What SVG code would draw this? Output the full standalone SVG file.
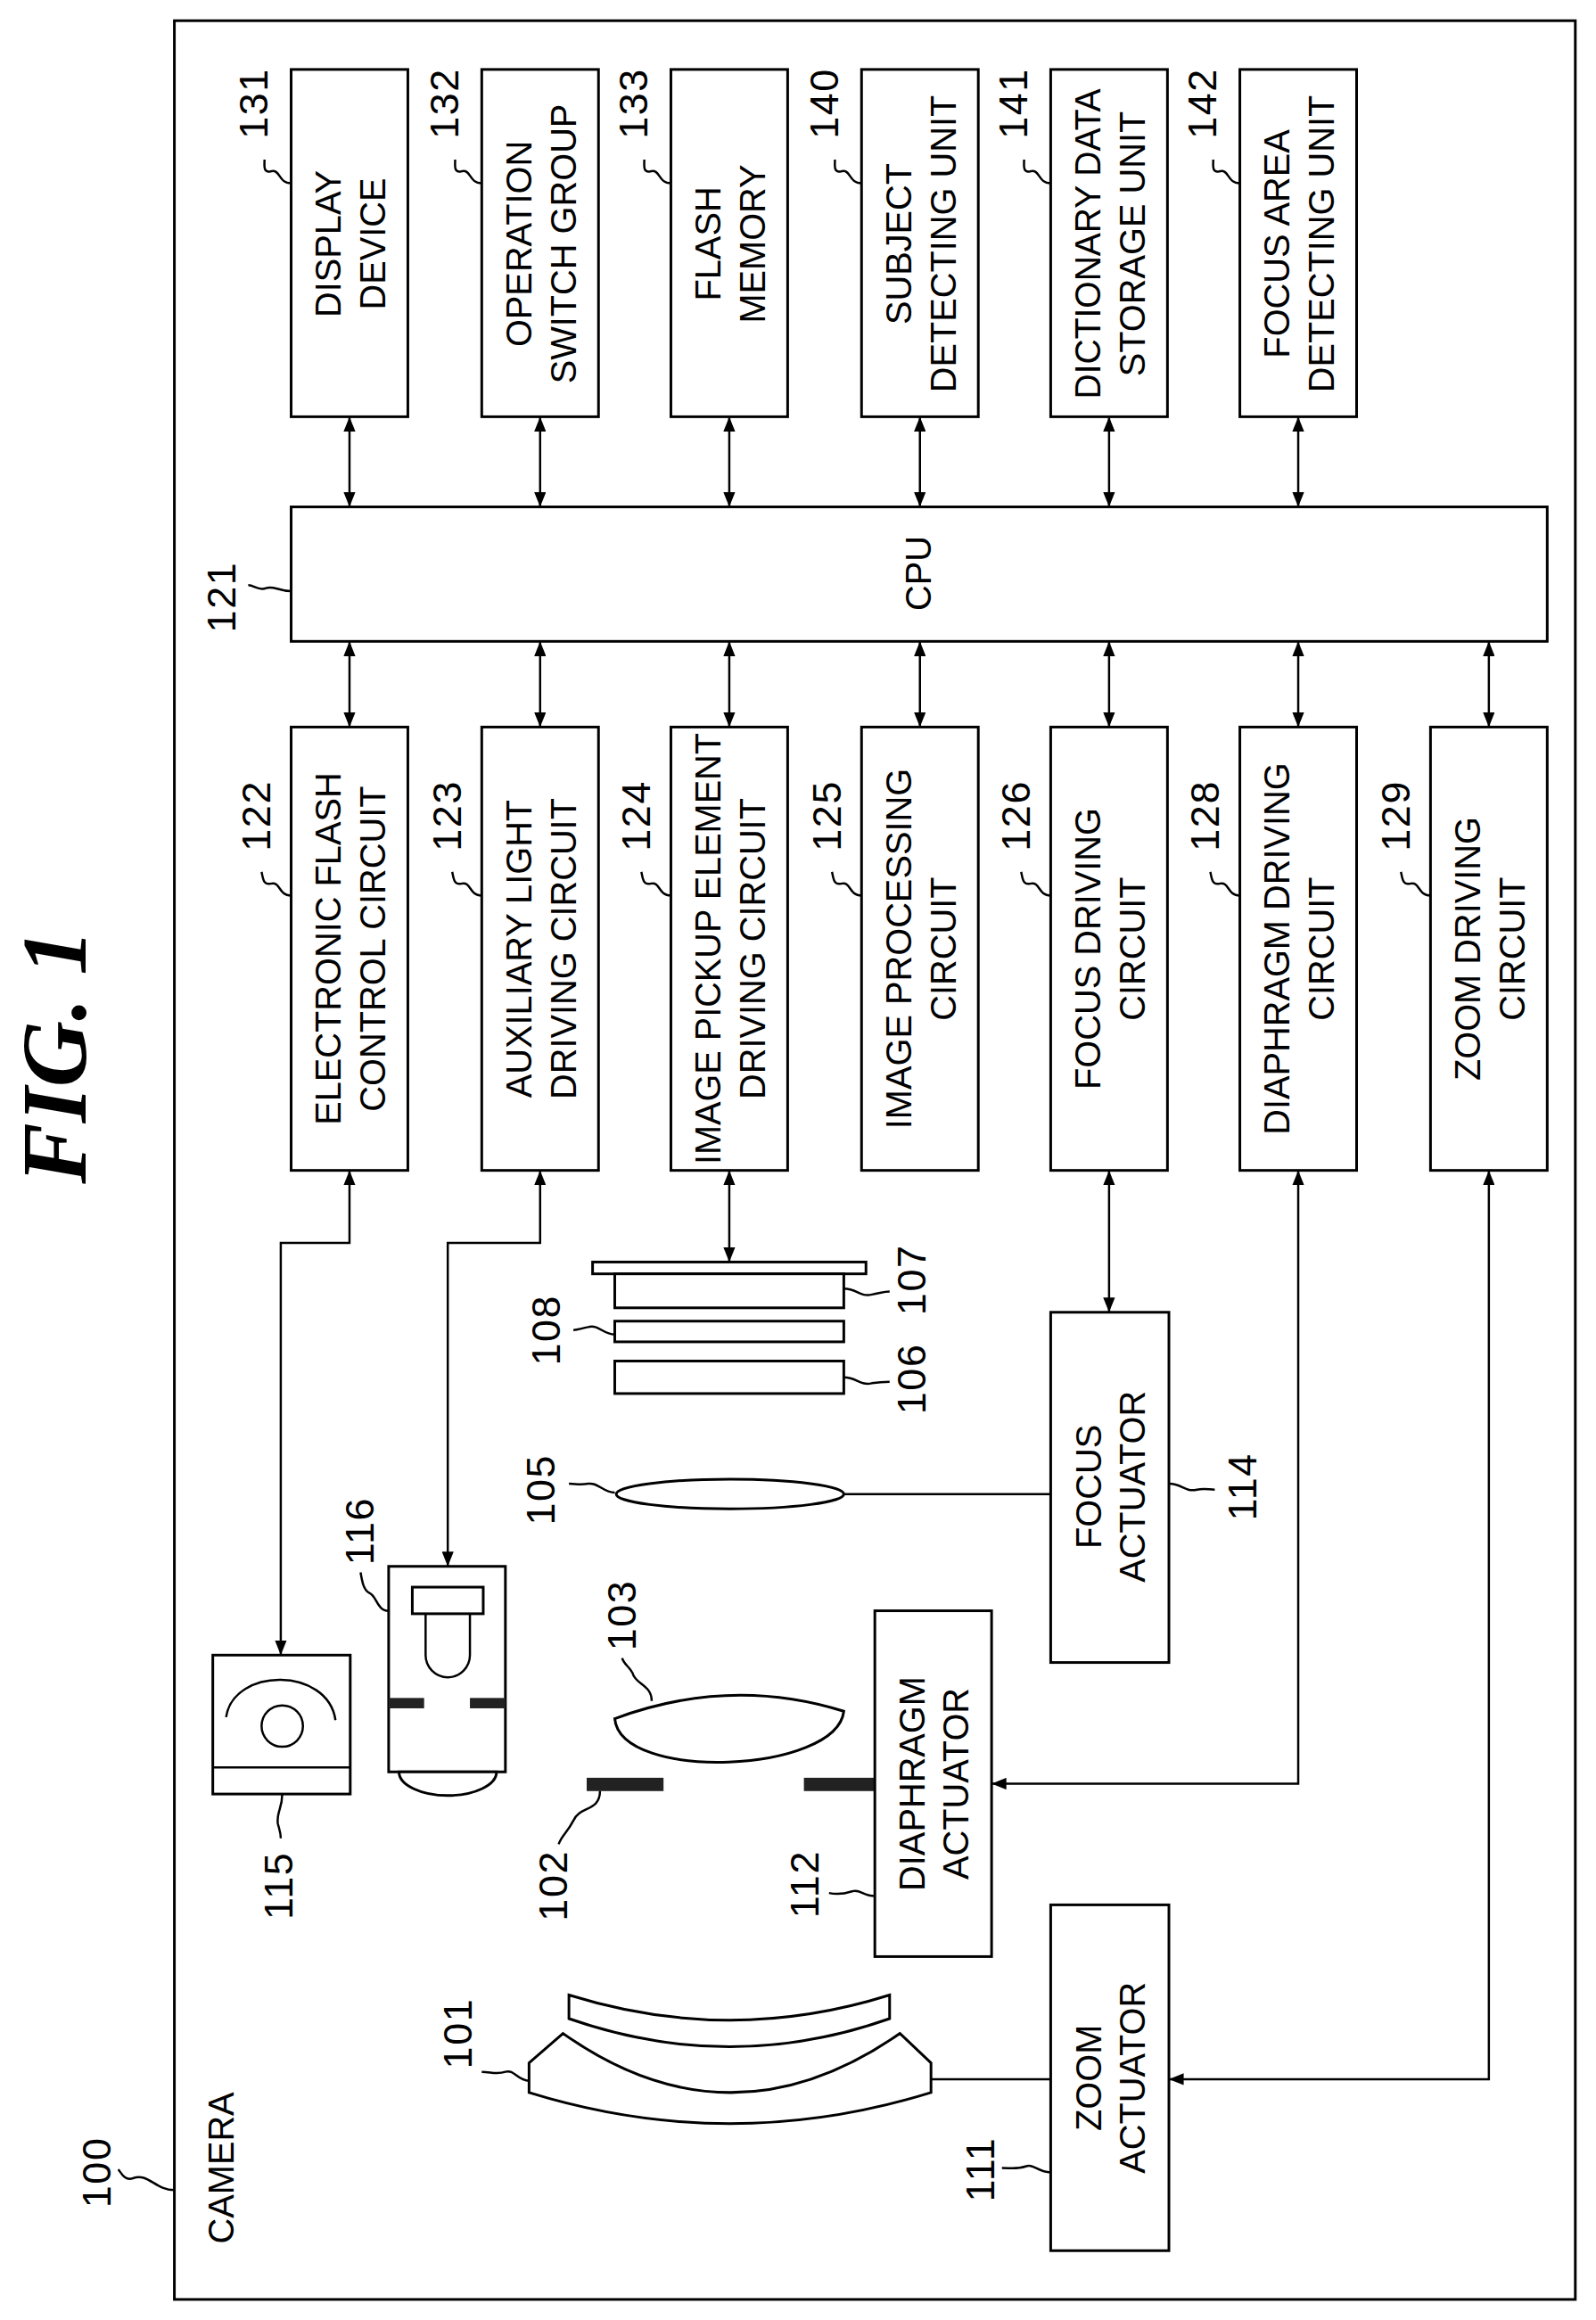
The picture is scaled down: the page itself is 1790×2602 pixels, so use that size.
<svg xmlns="http://www.w3.org/2000/svg" width="1790" height="2602" viewBox="0 0 1790 2602">
<defs>
<style>
.b{fill:#fff;stroke:#000;stroke-width:1.8}
.l{fill:none;stroke:#000;stroke-width:1.5}
.t{font-family:"Liberation Sans",Arial,sans-serif;font-size:24px;text-anchor:middle;fill:#000}
.n{font-family:"Liberation Sans",Arial,sans-serif;font-size:27px;text-anchor:middle;fill:#000;letter-spacing:1px}
.fig{font-family:"Liberation Serif",serif;font-size:62px;font-weight:bold;font-style:italic;text-anchor:middle}
.bar{fill:#222}
</style>
<marker id="a" viewBox="0 0 10 8" refX="10" refY="4" markerWidth="10" markerHeight="8" markerUnits="userSpaceOnUse" orient="auto-start-reverse"><path d="M0,0 L10,4 L0,8 z" fill="#000"/></marker>
</defs>
<rect width="1790" height="2602" fill="#fff"/>
<g transform="scale(1.65741)">
<text class="fig" transform="translate(58,715) rotate(-90)">FIG. 1</text>
<rect class="b" x="118" y="14" width="948" height="1542" fill="none"/>
<g id="label100"><text class="n" transform="translate(66,1470) rotate(-90)" dy="9">100</text><path class="l" d="M118,1482 C105,1482 100,1470 90,1474 C84,1476 82,1470 80,1468"/><text class="t" transform="translate(150,1467) rotate(-90)" dy="8">CAMERA</text></g>

<g id="n131"><rect class="b" x="197" y="47" width="79" height="235"/><text class="t" transform="translate(236.5,165) rotate(-90)"><tspan x="0" y="-6">DISPLAY</tspan><tspan x="0" y="24">DEVICE</tspan></text><text class="n" transform="translate(172,70) rotate(-90)" dy="9">131</text><path class="l" d="M197,124 C188,124 190,114 183,116 C178,117 179,112 179,108"/></g>
<g id="n132"><rect class="b" x="326" y="47" width="79" height="235"/><text class="t" transform="translate(365.5,165) rotate(-90)"><tspan x="0" y="-6">OPERATION</tspan><tspan x="0" y="24">SWITCH GROUP</tspan></text><text class="n" transform="translate(301,70) rotate(-90)" dy="9">132</text><path class="l" d="M326,124 C317,124 319,114 312,116 C307,117 308,112 308,108"/></g>
<g id="n133"><rect class="b" x="454" y="47" width="79" height="235"/><text class="t" transform="translate(493.5,165) rotate(-90)"><tspan x="0" y="-6">FLASH</tspan><tspan x="0" y="24">MEMORY</tspan></text><text class="n" transform="translate(429,70) rotate(-90)" dy="9">133</text><path class="l" d="M454,124 C445,124 447,114 440,116 C435,117 436,112 436,108"/></g>
<g id="n140"><rect class="b" x="583" y="47" width="79" height="235"/><text class="t" transform="translate(622.5,165) rotate(-90)"><tspan x="0" y="-6">SUBJECT</tspan><tspan x="0" y="24">DETECTING UNIT</tspan></text><text class="n" transform="translate(558,70) rotate(-90)" dy="9">140</text><path class="l" d="M583,124 C574,124 576,114 569,116 C564,117 565,112 565,108"/></g>
<g id="n141"><rect class="b" x="711" y="47" width="79" height="235"/><text class="t" transform="translate(750.5,165) rotate(-90)"><tspan x="0" y="-6" textLength="210" lengthAdjust="spacingAndGlyphs">DICTIONARY DATA</tspan><tspan x="0" y="24">STORAGE UNIT</tspan></text><text class="n" transform="translate(686,70) rotate(-90)" dy="9">141</text><path class="l" d="M711,124 C702,124 704,114 697,116 C692,117 693,112 693,108"/></g>
<g id="n142"><rect class="b" x="839" y="47" width="79" height="235"/><text class="t" transform="translate(878.5,165) rotate(-90)"><tspan x="0" y="-6">FOCUS AREA</tspan><tspan x="0" y="24">DETECTING UNIT</tspan></text><text class="n" transform="translate(814,70) rotate(-90)" dy="9">142</text><path class="l" d="M839,124 C830,124 832,114 825,116 C820,117 821,112 821,108"/></g>

<g id="n121"><rect class="b" x="197" y="343" width="850" height="91"/><text class="t" transform="translate(622,388) rotate(-90)" dy="8">CPU</text><text class="n" transform="translate(150,404) rotate(-90)" dy="9">121</text><path class="l" d="M197,400 C188,400 185,396 180,398 C175,400 172,396 168,396"/></g>

<g id="n122"><rect class="b" x="197" y="492" width="79" height="300"/><text class="t" transform="translate(236.5,642) rotate(-90)"><tspan x="0" y="-6">ELECTRONIC FLASH</tspan><tspan x="0" y="24">CONTROL CIRCUIT</tspan></text><text class="n" transform="translate(174,552) rotate(-90)" dy="9">122</text><path class="l" d="M197,606 C188,606 190,596 183,598 C178,599 178,594 177,590"/></g>
<g id="n123"><rect class="b" x="326" y="492" width="79" height="300"/><text class="t" transform="translate(365.5,642) rotate(-90)"><tspan x="0" y="-6">AUXILIARY LIGHT</tspan><tspan x="0" y="24">DRIVING CIRCUIT</tspan></text><text class="n" transform="translate(303,552) rotate(-90)" dy="9">123</text><path class="l" d="M326,606 C317,606 319,596 312,598 C307,599 307,594 306,590"/></g>
<g id="n124"><rect class="b" x="454" y="492" width="79" height="300"/><text class="t" transform="translate(493.5,642) rotate(-90)"><tspan x="0" y="-6" textLength="292" lengthAdjust="spacingAndGlyphs">IMAGE PICKUP ELEMENT</tspan><tspan x="0" y="24">DRIVING CIRCUIT</tspan></text><text class="n" transform="translate(431,552) rotate(-90)" dy="9">124</text><path class="l" d="M454,606 C445,606 447,596 440,598 C435,599 435,594 434,590"/></g>
<g id="n125"><rect class="b" x="583" y="492" width="79" height="300"/><text class="t" transform="translate(622.5,642) rotate(-90)"><tspan x="0" y="-6">IMAGE PROCESSING</tspan><tspan x="0" y="24">CIRCUIT</tspan></text><text class="n" transform="translate(560,552) rotate(-90)" dy="9">125</text><path class="l" d="M583,606 C574,606 576,596 569,598 C564,599 564,594 563,590"/></g>
<g id="n126"><rect class="b" x="711" y="492" width="79" height="300"/><text class="t" transform="translate(750.5,642) rotate(-90)"><tspan x="0" y="-6">FOCUS DRIVING</tspan><tspan x="0" y="24">CIRCUIT</tspan></text><text class="n" transform="translate(688,552) rotate(-90)" dy="9">126</text><path class="l" d="M711,606 C702,606 704,596 697,598 C692,599 692,594 691,590"/></g>
<g id="n128"><rect class="b" x="839" y="492" width="79" height="300"/><text class="t" transform="translate(878.5,642) rotate(-90)"><tspan x="0" y="-6">DIAPHRAGM DRIVING</tspan><tspan x="0" y="24">CIRCUIT</tspan></text><text class="n" transform="translate(816,552) rotate(-90)" dy="9">128</text><path class="l" d="M839,606 C830,606 832,596 825,598 C820,599 820,594 819,590"/></g>
<g id="n129"><rect class="b" x="968" y="492" width="79" height="300"/><text class="t" transform="translate(1007.5,642) rotate(-90)"><tspan x="0" y="-6">ZOOM DRIVING</tspan><tspan x="0" y="24">CIRCUIT</tspan></text><text class="n" transform="translate(945,552) rotate(-90)" dy="9">129</text><path class="l" d="M968,606 C959,606 961,596 954,598 C949,599 949,594 948,590"/></g>

<g id="n115"><rect class="b" x="144" y="1120" width="93" height="94"/><line class="l" x1="144" y1="1196" x2="237" y2="1196" stroke-width="2.5"/><ellipse class="l" cx="191" cy="1168" rx="14" ry="14"/><path class="l" d="M153,1162 C158,1128 222,1128 227,1164"/><text class="n" transform="translate(189,1276) rotate(-90)" dy="9">115</text><path class="l" d="M191,1214 C191,1224 187,1226 188,1234 C189,1238 190,1240 190,1244"/></g>
<g id="n116"><path class="b" d="M263,1060 H342 V1199 H263 Z"/><path class="b" d="M270,1199 A33,16 0 0 0 336,1199 Z"/><rect class="b" x="279" y="1074" width="48" height="18"/><path class="l" d="M288,1092 V1120 A15,15 0 0 0 318,1120 V1092"/><rect class="bar" x="263" y="1149" width="24" height="7"/><rect class="bar" x="318" y="1149" width="24" height="7"/><text class="n" transform="translate(244,1036) rotate(-90)" dy="9">116</text><path class="l" d="M263,1090 C255,1090 255,1080 250,1078 C246,1076 245,1070 244,1064"/></g>

<g id="n101"><path class="b" d="M381,1376 L358,1396 V1416 Q494,1458 630,1416 V1396 L609,1376 Q494,1456 381,1376 Z"/><path class="b" d="M385,1350 V1366 Q494,1404 602,1366 V1350 Q494,1384 385,1350 Z"/><text class="n" transform="translate(310,1376) rotate(-90)" dy="9">101</text><path class="l" d="M358,1408 C350,1408 348,1400 342,1402 C336,1404 332,1402 326,1402"/></g>
<g id="n102"><rect class="bar" x="397" y="1203" width="52" height="9"/><rect class="bar" x="544" y="1203" width="48" height="9"/><text class="n" transform="translate(375,1276) rotate(-90)" dy="9">102</text><path class="l" d="M406,1212 C406,1226 392,1222 388,1232 C384,1240 380,1242 378,1248"/></g>
<g id="n103"><path class="b" d="M416,1163 Q494,1134 571,1158 C566,1200 420,1206 416,1163 Z"/><text class="n" transform="translate(421,1093) rotate(-90)" dy="9">103</text><path class="l" d="M441,1151 C441,1140 430,1140 428,1132 C426,1128 422,1126 421,1122"/></g>
<g id="n105"><ellipse class="b" cx="494" cy="1011" rx="77" ry="10"/><text class="n" transform="translate(366,1008) rotate(-90)" dy="9">105</text><path class="l" d="M416,1010 C408,1010 405,1003 398,1004 C392,1005 390,1004 385,1004"/></g>
<g id="n106"><rect class="b" x="416" y="921" width="155" height="22"/><text class="n" transform="translate(617,933) rotate(-90)" dy="9">106</text><path class="l" d="M571,932 C580,932 582,938 590,936 C596,935 598,935 602,935"/></g>
<g id="n108"><rect class="b" x="416" y="894" width="155" height="14"/><text class="n" transform="translate(370,900) rotate(-90)" dy="9">108</text><path class="l" d="M416,903 C408,903 405,896 398,898 C393,899 391,900 388,900"/></g>
<g id="n107"><rect class="b" x="401" y="854" width="185" height="8"/><rect class="b" x="416" y="862" width="155" height="23"/><text class="n" transform="translate(617,866) rotate(-90)" dy="9">107</text><path class="l" d="M571,872 C580,872 582,878 590,876 C596,875 598,874 602,874"/></g>

<g id="n114"><rect class="b" x="711" y="888" width="80" height="237"/><text class="t" transform="translate(751,1006) rotate(-90)"><tspan x="0" y="-6">FOCUS</tspan><tspan x="0" y="24">ACTUATOR</tspan></text><text class="n" transform="translate(841,1006) rotate(-90)" dy="9">114</text><path class="l" d="M791,1004 C800,1004 802,1010 810,1008 C815,1007 818,1008 822,1008"/></g>
<g id="n112"><rect class="b" x="592" y="1090" width="79" height="234"/><text class="t" transform="translate(631.5,1207) rotate(-90)"><tspan x="0" y="-6">DIAPHRAGM</tspan><tspan x="0" y="24">ACTUATOR</tspan></text><text class="n" transform="translate(545,1275) rotate(-90)" dy="9">112</text><path class="l" d="M592,1283 C584,1283 582,1278 576,1280 C570,1282 566,1282 561,1281"/></g>
<g id="n111"><rect class="b" x="711" y="1289" width="80" height="234"/><text class="t" transform="translate(751,1406) rotate(-90)"><tspan x="0" y="-6">ZOOM</tspan><tspan x="0" y="24">ACTUATOR</tspan></text><text class="n" transform="translate(664,1468) rotate(-90)" dy="9">111</text><path class="l" d="M711,1470 C702,1470 700,1464 694,1466 C688,1468 684,1467 678,1467"/></g>

<g id="connectors" class="l">
<line x1="236.5" y1="282" x2="236.5" y2="343" marker-start="url(#a)" marker-end="url(#a)"/>
<line x1="365.5" y1="282" x2="365.5" y2="343" marker-start="url(#a)" marker-end="url(#a)"/>
<line x1="493.5" y1="282" x2="493.5" y2="343" marker-start="url(#a)" marker-end="url(#a)"/>
<line x1="622.5" y1="282" x2="622.5" y2="343" marker-start="url(#a)" marker-end="url(#a)"/>
<line x1="750.5" y1="282" x2="750.5" y2="343" marker-start="url(#a)" marker-end="url(#a)"/>
<line x1="878.5" y1="282" x2="878.5" y2="343" marker-start="url(#a)" marker-end="url(#a)"/>
<line x1="236.5" y1="434" x2="236.5" y2="492" marker-start="url(#a)" marker-end="url(#a)"/>
<line x1="365.5" y1="434" x2="365.5" y2="492" marker-start="url(#a)" marker-end="url(#a)"/>
<line x1="493.5" y1="434" x2="493.5" y2="492" marker-start="url(#a)" marker-end="url(#a)"/>
<line x1="622.5" y1="434" x2="622.5" y2="492" marker-start="url(#a)" marker-end="url(#a)"/>
<line x1="750.5" y1="434" x2="750.5" y2="492" marker-start="url(#a)" marker-end="url(#a)"/>
<line x1="878.5" y1="434" x2="878.5" y2="492" marker-start="url(#a)" marker-end="url(#a)"/>
<line x1="1007.5" y1="434" x2="1007.5" y2="492" marker-start="url(#a)" marker-end="url(#a)"/>
<path d="M236.5,792 V841 H190 V1120" marker-start="url(#a)" marker-end="url(#a)"/>
<path d="M365.5,792 V841 H303 V1060" marker-start="url(#a)" marker-end="url(#a)"/>
<line x1="493.5" y1="792" x2="493.5" y2="854" marker-start="url(#a)" marker-end="url(#a)"/>
<line x1="750.5" y1="792" x2="750.5" y2="888" marker-start="url(#a)" marker-end="url(#a)"/>
<path d="M878.5,792 V1207 H671" marker-start="url(#a)" marker-end="url(#a)"/>
<path d="M1007.5,792 V1407 H791" marker-start="url(#a)" marker-end="url(#a)"/>
<line x1="571" y1="1011" x2="711" y2="1011"/>
<line x1="630" y1="1407" x2="711" y2="1407"/>
</g>
</g>
</svg>
